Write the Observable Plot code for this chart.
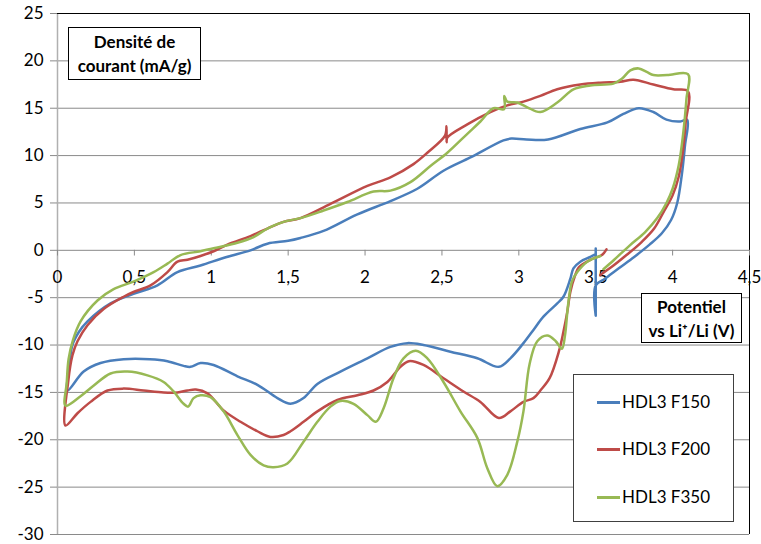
<!DOCTYPE html>
<html><head><meta charset="utf-8">
<script src="https://cdn.jsdelivr.net/npm/d3@7"></script>
<script src="https://cdn.jsdelivr.net/npm/@observablehq/plot@0.6"></script>
<style>
body{margin:0;background:#fff;font-family:Lato, sans-serif;}
#wrap{position:relative;width:761px;height:544px;overflow:hidden}
.box{position:absolute;background:#fff;border:1px solid #000;box-sizing:border-box;font-weight:bold;font-size:17px;text-align:center;line-height:24px;color:#000;font-family:Lato, sans-serif}
.leg{position:absolute;background:#fff;border:1px solid #404040;box-sizing:border-box;font-size:17px;font-family:Lato, sans-serif;color:#000}
.item{position:absolute;left:23px;height:20px;line-height:20px;white-space:nowrap}
.sw{display:inline-block;width:23px;height:3px;vertical-align:middle;margin-right:2px;position:relative;top:-1px}
</style></head><body><div id="wrap"></div>
<script>
const seriesNames = ["HDL3 F150", "HDL3 F200", "HDL3 F350"];
const seriesColors = ["#4a7ebb", "#be4b48", "#98b954"];
const yTicks = [-30, -25, -20, -15, -10, -5, 0, 5, 10, 15, 20, 25];
const xTicks = [0, 0.5, 1, 1.5, 2, 2.5, 3, 3.5, 4, 4.5];
const xTickLabels = ["0", "0,5", "1", "1,5", "2", "2,5", "3", "3,5", "4", "4,5"];
const yTitle = ["Densité de", "courant (mA/g)"];
const xTitle = ["Potentiel", "vs Li\u207A/Li (V)"];

// HDL3 F150 (blue) — points in sweep order [potential V, current mA/g]
const f150 = [
 [3.5,0.2],[3.5,-6.9],[3.5,-3.7],
 [3.56,-3.0],[3.65,-1.9],[3.75,-0.7],[3.85,0.6],[3.93,1.8],[3.99,3.2],[4.03,5.0],[4.06,8.0],[4.08,11.0],[4.095,13.8],
 [4.05,13.6],[3.96,13.8],[3.875,14.6],[3.78,15.0],[3.68,14.4],[3.576,13.5],[3.4,12.8],[3.19,11.7],[3.05,11.7],[2.95,11.8],[2.9,11.6],
 [2.685,9.8],[2.51,8.4],[2.34,6.5],[2.165,5.2],[1.95,3.8],[1.73,2.05],[1.58,1.3],[1.5,1.0],[1.365,0.7],[1.255,0],[1.1,-0.7],
 [0.93,-1.6],[0.78,-2.3],[0.65,-3.7],[0.494,-4.6],[0.345,-5.6],[0.195,-7.5],[0.14,-8.6],[0.097,-10],[0.075,-12.5],[0.065,-14.8],
 [0.17,-12.8],[0.28,-11.9],[0.43,-11.5],[0.6,-11.5],[0.715,-11.7],[0.82,-12.2],[0.865,-12.3],[0.93,-11.9],[1.015,-12.1],[1.17,-13.3],
 [1.3,-14.2],[1.43,-15.6],[1.515,-16.2],[1.6,-15.6],[1.69,-14.1],[1.84,-12.8],[2.015,-11.4],[2.165,-10.2],[2.275,-9.8],[2.38,-10.0],
 [2.555,-10.7],[2.73,-11.4],[2.87,-12.3],[2.945,-11.4],[3.03,-9.8],[3.095,-8.4],[3.16,-7.0],[3.25,-5.6],[3.29,-4.9],[3.335,-3.0],
 [3.355,-1.9],[3.4,-1.2],[3.465,-0.7],[3.5,-0.4]
];
// HDL3 F200 (red)
const f200 = [
 [3.53,-2.6],[3.6,-1.8],[3.7,-0.5],[3.8,0.9],[3.88,2.3],[3.94,4.0],[4.0,5.8],[4.04,7.8],[4.065,10.2],[4.085,13.5],[4.1,16.8],
 [4.005,17.0],[3.875,17.5],[3.745,18.0],[3.66,17.8],[3.53,17.7],[3.4,17.5],[3.25,17.0],[3.14,16.3],[3.03,15.7],[2.925,15.3],[2.815,14.6],
 [2.665,13.3],[2.535,11.9],[2.53,11.4],[2.53,13.1],[2.52,12.1],[2.405,10.3],[2.315,9.1],[2.165,7.7],[2.015,6.8],[1.775,4.9],[1.58,3.4],
 [1.47,3.0],[1.365,2.3],[1.255,1.5],[1.105,0.6],[1.015,-0.1],[0.93,-0.6],[0.845,-1.0],[0.78,-1.2],[0.715,-2.3],[0.605,-3.7],[0.494,-4.4],
 [0.43,-4.9],[0.3,-6.2],[0.195,-7.9],[0.13,-9.6],[0.097,-11.1],[0.07,-13.8],[0.052,-18.5],
 [0.13,-17.2],[0.215,-16.0],[0.325,-14.8],[0.43,-14.6],[0.56,-14.8],[0.69,-15.0],[0.78,-15.0],[0.845,-14.8],[0.9,-14.7],[0.975,-15.1],
 [1.08,-16.9],[1.19,-18.1],[1.3,-19.1],[1.385,-19.7],[1.47,-19.5],[1.515,-19.1],[1.6,-18.1],[1.69,-17.0],[1.82,-15.8],[1.95,-15.3],
 [2.055,-14.8],[2.145,-13.9],[2.23,-12.3],[2.285,-11.7],[2.38,-12.1],[2.51,-13.5],[2.64,-14.9],[2.75,-16.0],[2.87,-17.7],[2.945,-17.0],
 [3.03,-16.0],[3.095,-15.6],[3.14,-14.8],[3.2,-13.5],[3.26,-10.7],[3.29,-8.6],[3.315,-6.5],[3.335,-4.4],[3.365,-2.7],[3.39,-1.8],
 [3.465,-1.0],[3.54,-0.5],[3.57,0.1]
];
// HDL3 F350 (green)
const f350 = [
 [3.55,-2.0],[3.62,-1.0],[3.72,0.5],[3.82,1.9],[3.9,3.4],[3.96,5.0],[4.0,6.5],[4.04,9],[4.07,12.5],[4.09,16],[4.1,18.6],
 [3.965,18.5],[3.875,18.5],[3.835,18.8],[3.78,19.2],[3.725,19.0],[3.67,18.1],[3.615,17.6],[3.465,17.4],[3.355,17.0],[3.25,15.6],
 [3.14,14.6],[3.055,15.1],[2.99,15.6],[2.925,15.7],[2.905,16.3],[2.905,14.9],[2.835,15.0],[2.75,13.6],[2.665,12.3],[2.535,10.3],
 [2.425,8.9],[2.295,7.2],[2.165,6.3],[2.055,6.2],[1.885,5.1],[1.73,4.2],[1.58,3.4],[1.47,3.0],[1.365,2.3],[1.275,1.4],[1.17,0.8],
 [1.04,0.3],[0.93,-0.1],[0.8,-0.5],[0.715,-1.4],[0.625,-2.3],[0.494,-3.3],[0.365,-4.1],[0.26,-5.3],[0.15,-7.5],[0.1,-9.5],
 [0.072,-11.5],[0.06,-14],[0.052,-16.4],
 [0.15,-15.4],[0.234,-14.3],[0.345,-13.0],[0.455,-12.8],[0.585,-13.2],[0.69,-13.9],[0.755,-14.9],[0.82,-16.2],[0.85,-16.5],
 [0.885,-15.6],[0.93,-15.3],[0.995,-15.5],[1.08,-17.0],[1.17,-19.5],[1.255,-21.6],[1.34,-22.7],[1.405,-22.9],[1.495,-22.5],
 [1.6,-20.2],[1.69,-18.1],[1.775,-16.5],[1.84,-15.9],[1.925,-16.2],[2.015,-17.4],[2.07,-18.1],[2.12,-16.7],[2.185,-13.5],
 [2.25,-11.4],[2.33,-10.6],[2.405,-11.4],[2.51,-13.9],[2.62,-17.0],[2.73,-19.8],[2.795,-23.0],[2.86,-24.9],[2.925,-23.7],
 [2.99,-20.2],[3.03,-17.0],[3.07,-12.0],[3.12,-9.6],[3.185,-9.0],[3.24,-9.6],[3.28,-10.4],[3.3,-9.0],[3.32,-5.8],[3.345,-3.3],
 [3.38,-2.3],[3.445,-1.2],[3.53,-0.6]
];
const series = [f150, f200, f350];

const chart = Plot.plot({
  width: 761, height: 544,
  marginLeft: 57, marginRight: 12, marginTop: 13, marginBottom: 10,
  style: {fontFamily: "Lato, sans-serif", fontSize: "17px", background: "#fff", color: "#000"},
  x: {domain: [0, 4.5], axis: null},
  y: {domain: [-30, 25]},
  marks: [
    Plot.ruleY(yTicks, {stroke: "#8a8a8a", strokeWidth: 1}),
    Plot.ruleX([0], {stroke: "#b0b0b0", strokeWidth: 1.5}),
    Plot.ruleY([25], {stroke: "#000", strokeWidth: 1}),
    Plot.ruleX([4.5], {stroke: "#000", strokeWidth: 1}),
    Plot.axisY(yTicks, {tickSize: 7, tickPadding: 7, tickFormat: d => String(d), stroke: "#8a8a8a", fill: "#000", fontSize: 17}),
    Plot.ruleX(xTicks, {x: d => d, y1: 0, y2: -0.6, stroke: "#8a8a8a"}),
    Plot.text(xTicks, {x: d => d, y: 0, text: (d, i) => xTickLabels[i], dy: 27, fontSize: 17, fill: "#000"}),
    ...series.map((s, i) => Plot.line(s, {x: d => d[0], y: d => d[1], stroke: seriesColors[i], strokeWidth: 2.5, curve: "catmull-rom"}))
  ]
});
const wrap = document.getElementById("wrap");
wrap.appendChild(chart);

const b1 = document.createElement("div");
b1.className = "box";
Object.assign(b1.style, {left: "68px", top: "27px", width: "133px", height: "53px", paddingTop: "2px"});
b1.innerHTML = yTitle.join("<br>");
wrap.appendChild(b1);

const b2 = document.createElement("div");
b2.className = "box";
Object.assign(b2.style, {left: "641px", top: "293px", width: "101px", height: "50px", paddingTop: "1px"});
b2.innerHTML = xTitle.join("<br>");
wrap.appendChild(b2);

const leg = document.createElement("div");
leg.className = "leg";
Object.assign(leg.style, {left: "573px", top: "374px", width: "161px", height: "148px"});
const legY = [17, 64, 112];
seriesNames.forEach((n, i) => {
  const it = document.createElement("div");
  it.className = "item";
  it.style.top = legY[i] + "px";
  it.innerHTML = `<span class="sw" style="background:${seriesColors[i]}"></span>${n}`;
  leg.appendChild(it);
});
wrap.appendChild(leg);
</script>
</body></html>
